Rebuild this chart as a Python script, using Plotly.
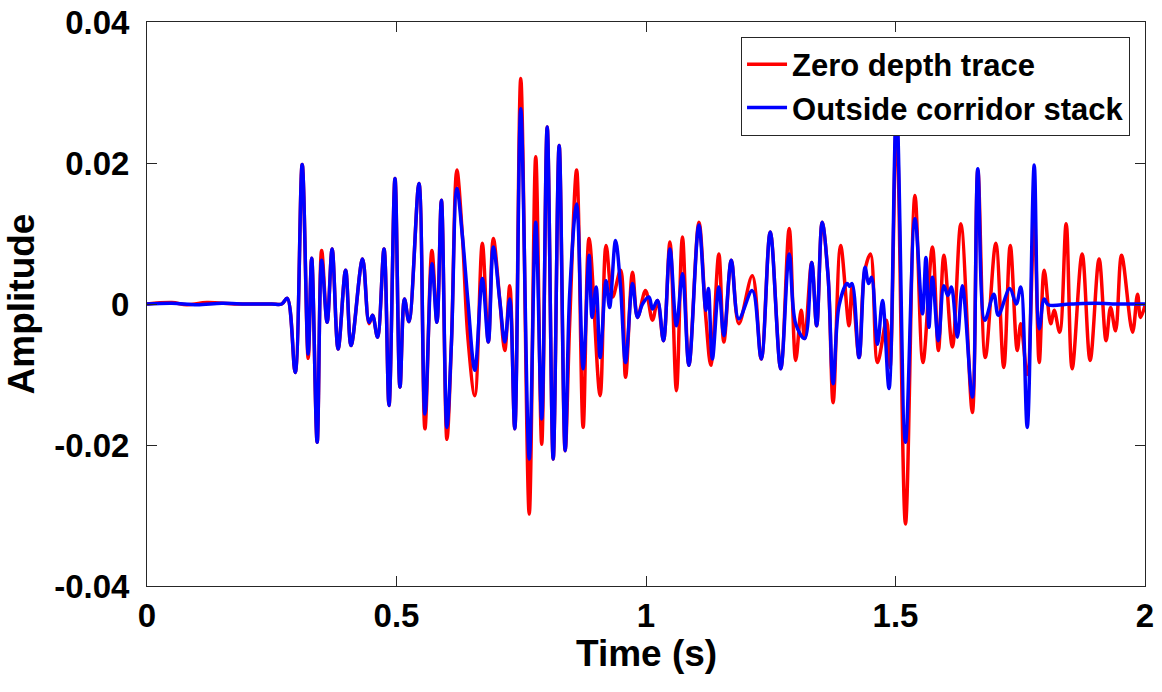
import plotly.graph_objects as go

# ---- data ----
blue_t = [0.0, 0.05, 0.10, 0.15, 0.20, 0.25, 0.27, 0.281, 0.297, 0.311, 0.323, 0.330, 0.341, 0.350, 0.361,
          0.371, 0.383, 0.398, 0.409, 0.432, 0.445, 0.452, 0.462, 0.475, 0.485, 0.497, 0.507,
          0.516, 0.525, 0.545, 0.557, 0.571, 0.581, 0.590, 0.601, 0.610, 0.621, 0.632, 0.643,
          0.657, 0.672, 0.684, 0.694, 0.707, 0.717, 0.727, 0.737, 0.749, 0.766, 0.779, 0.791,
          0.802, 0.814, 0.826, 0.838, 0.847, 0.861, 0.874, 0.886, 0.892, 0.900, 0.908, 0.920,
          0.927, 0.939, 0.949, 0.959, 0.973, 0.983, 0.993, 1.006, 1.013, 1.023, 1.035, 1.048,
          1.061, 1.073, 1.086, 1.106, 1.120, 1.125, 1.133, 1.146, 1.156, 1.171, 1.186, 1.213,
          1.231, 1.249, 1.270, 1.287, 1.300, 1.318, 1.332, 1.342, 1.353, 1.365, 1.375, 1.387,
          1.403, 1.408, 1.413, 1.427, 1.439, 1.446, 1.452, 1.464, 1.474, 1.487, 1.502, 1.520,
          1.539, 1.554, 1.561, 1.567, 1.574, 1.586, 1.597, 1.605, 1.612, 1.624, 1.634, 1.654,
          1.665, 1.679, 1.697, 1.706, 1.729, 1.742, 1.751, 1.764, 1.778, 1.788, 1.798, 1.806,
          1.85, 1.90, 1.95, 2.0]
blue_a = [0.0, 0.0001, -0.0001, 0.0001, 0.0, 0.0, 0.0, 0.0008, -0.0097, 0.0198, -0.0071, 0.0065, -0.0196, 0.0062, -0.0026,
          0.0078, -0.0064, 0.0048, -0.0059, 0.0064, -0.0026, -0.0016, -0.0047, 0.0078, -0.0144, 0.0178, -0.0118,
          0.0007, -0.0025, 0.0171, -0.0156, 0.0057, -0.0026, 0.0147, -0.0175, -0.0057, 0.0164, 0.0097, 0.0005,
          -0.0094, 0.0036, -0.0054, 0.0081, 0.0005, -0.0054, 0.0007, -0.0177, 0.0277, -0.0220, 0.0116, -0.0163,
          0.0251, -0.0220, 0.0225, -0.0208, 0.0014, 0.0142, -0.0092, 0.0069, -0.0019, 0.0024, -0.0076, 0.0033,
          -0.0005, 0.0090, 0.0024, -0.0083, 0.0029, -0.0019, 0.0000, 0.0010, -0.0007, 0.0005, -0.0052, 0.0078,
          -0.0031, 0.0043, -0.0087, 0.0112, -0.0009, 0.0022, -0.0078, 0.0024, -0.0045, 0.0062, -0.0021, 0.0019,
          -0.0078, 0.0102, -0.0092, 0.0071, -0.0028, -0.0049, 0.0059, -0.0031, 0.0116, 0.0038, -0.0113, -0.0002,
          0.0029, 0.0025, 0.0029, -0.0076, 0.0052, 0.0029, 0.0038, -0.0057, 0.0005, -0.0120, 0.0280, -0.0196,
          0.0121, -0.0014, 0.0066, -0.0033, 0.0038, -0.0052, 0.0026, 0.0012, 0.0024, -0.0047, 0.0026, -0.0132,
          0.0192, -0.0023, 0.0014, -0.0016, 0.0022, 0.0000, 0.0024, -0.0175, 0.0197, -0.0035, 0.0007, -0.0001,
          0.0, 0.0001, 0.0, 0.0]

red_t = [0.0, 0.05, 0.08, 0.12, 0.18, 0.25, 0.27, 0.281, 0.297, 0.311, 0.323, 0.330, 0.341, 0.350, 0.361,
         0.371, 0.383, 0.398, 0.409, 0.432, 0.445, 0.452, 0.462, 0.475, 0.485, 0.497, 0.507,
         0.516, 0.525, 0.545, 0.557, 0.571, 0.581, 0.590, 0.601, 0.610, 0.621, 0.632, 0.643,
         0.657, 0.672, 0.684, 0.694, 0.707, 0.717, 0.727, 0.737, 0.749, 0.766, 0.779, 0.791,
         0.802, 0.814, 0.826, 0.838, 0.847, 0.861, 0.874, 0.886, 0.908, 0.920, 0.933, 0.949,
         0.959, 0.973, 0.983, 0.999, 1.013, 1.023, 1.035, 1.048, 1.061, 1.073, 1.086, 1.106,
         1.120, 1.130, 1.146, 1.156, 1.171, 1.186, 1.213, 1.231, 1.249, 1.270, 1.287, 1.300,
         1.311, 1.318, 1.332, 1.342, 1.353, 1.365, 1.375, 1.390, 1.407, 1.413, 1.427, 1.438,
         1.450, 1.464, 1.482, 1.489, 1.502, 1.520, 1.539, 1.555, 1.574, 1.586, 1.597, 1.614,
         1.631, 1.654, 1.665, 1.680, 1.701, 1.717, 1.730, 1.744, 1.751, 1.764, 1.778, 1.788,
         1.798, 1.811, 1.818, 1.829, 1.842, 1.854, 1.874, 1.890, 1.908, 1.922, 1.931, 1.941,
         1.953, 1.975, 1.985, 1.991, 2.0]
red_a = [0.0, 0.0002, -0.0001, 0.0002, 0.0, 0.0, 0.0, 0.0008, -0.0097, 0.0198, -0.0077, 0.0065, -0.0196, 0.0076, -0.0026,
         0.0078, -0.0064, 0.0048, -0.0059, 0.0064, -0.0028, -0.0016, -0.0047, 0.0078, -0.0144, 0.0178, -0.0118,
         0.0007, -0.0025, 0.0171, -0.0177, 0.0076, -0.0026, 0.0147, -0.0192, -0.0057, 0.0190, 0.0097, -0.0047,
         -0.0130, 0.0086, -0.0054, 0.0093, 0.0005, -0.0066, 0.0026, -0.0177, 0.0320, -0.0298, 0.0209, -0.0199,
         0.0251, -0.0220, 0.0225, -0.0208, -0.0028, 0.0190, -0.0175, 0.0093, -0.0130, 0.0083, 0.0010, 0.0048,
         -0.0104, 0.0045, -0.0019, 0.0019, -0.0023, 0.0005, -0.0052, 0.0088, -0.0123, 0.0095, -0.0087, 0.0116,
         -0.0020, -0.0087, 0.0071, -0.0054, 0.0062, -0.0028, 0.0040, -0.0078, 0.0102, -0.0092, 0.0107, -0.0080,
         -0.0009, -0.0049, 0.0059, -0.0031, 0.0116, 0.0038, -0.0140, 0.0083, -0.0031, 0.0025, -0.0076, 0.0045,
         0.0071, -0.0083, -0.0023, -0.0090, 0.0260, -0.0312, 0.0154, -0.0083, 0.0081, -0.0066, 0.0069, -0.0061,
         0.0114, -0.0154, 0.0190, -0.0076, 0.0086, -0.0090, 0.0083, -0.0066, -0.0028, -0.0100, 0.0120, -0.0083,
         0.0048, -0.0028, -0.0009, -0.0040, 0.0114, -0.0092, 0.0071, -0.0080, 0.0064, -0.0052, -0.0005, -0.0038,
         0.0069, -0.0040, 0.0014, -0.0019, -0.0002]

x_tickvals = [0, 0.5, 1, 1.5, 2]
x_ticktext = ["0", "0.5", "1", "1.5", "2"]
y_tickvals = [-0.04, -0.02, 0, 0.02, 0.04]
y_ticktext = ["-0.04", "-0.02", "0", "0.02", "0.04"]

series_names = ["Zero depth trace", "Outside corridor stack"]
series_colors = ["#FF0000", "#0000FF"]
x_title = "Time (s)"
y_title = "Amplitude"

FONT = "Liberation Sans, Arial, sans-serif"
AXC = "#262626"

fig = go.Figure()
fig.add_trace(go.Scatter(x=red_t, y=red_a, mode="lines", name=series_names[0],
                         line=dict(color=series_colors[0], width=3.5, shape="spline", smoothing=1.0)))
fig.add_trace(go.Scatter(x=blue_t, y=blue_a, mode="lines", name=series_names[1],
                         line=dict(color=series_colors[1], width=3.5, shape="spline", smoothing=1.0)))

axis_common = dict(showgrid=False, zeroline=False, showline=True, linecolor=AXC, linewidth=1,
                   mirror="ticks", ticks="inside", ticklen=10, tickcolor=AXC, tickwidth=1,
                   tickfont=dict(family=FONT, size=33, color="black", weight="bold"))

fig.update_xaxes(range=[0, 2], tickvals=x_tickvals, ticktext=x_ticktext,
                 ticklabelstandoff=0, **axis_common)
fig.update_yaxes(range=[-0.04, 0.04], tickvals=y_tickvals, ticktext=y_ticktext,
                 title=dict(text=y_title, font=dict(family=FONT, size=37, color="black", weight="bold"),
                            standoff=8),
                 ticklabelstandoff=10, **axis_common)

fig.add_annotation(text=x_title, xref="paper", yref="paper", x=0.5, y=-0.12,
                   xanchor="center", yanchor="middle", showarrow=False,
                   font=dict(family=FONT, size=37, color="black", weight="bold"))

fig.update_layout(
    width=1162, height=692,
    margin=dict(l=147, r=17, t=22, b=106, autoexpand=False),
    paper_bgcolor="white", plot_bgcolor="white",
    showlegend=True,
    legend=dict(x=0.985, y=0.974, xanchor="right", yanchor="top",
                bgcolor="white", bordercolor=AXC, borderwidth=1,
                font=dict(family=FONT, size=31, color="black", weight="bold"),
                itemwidth=40, tracegroupgap=0),
)

fig.write_html("out.html")
